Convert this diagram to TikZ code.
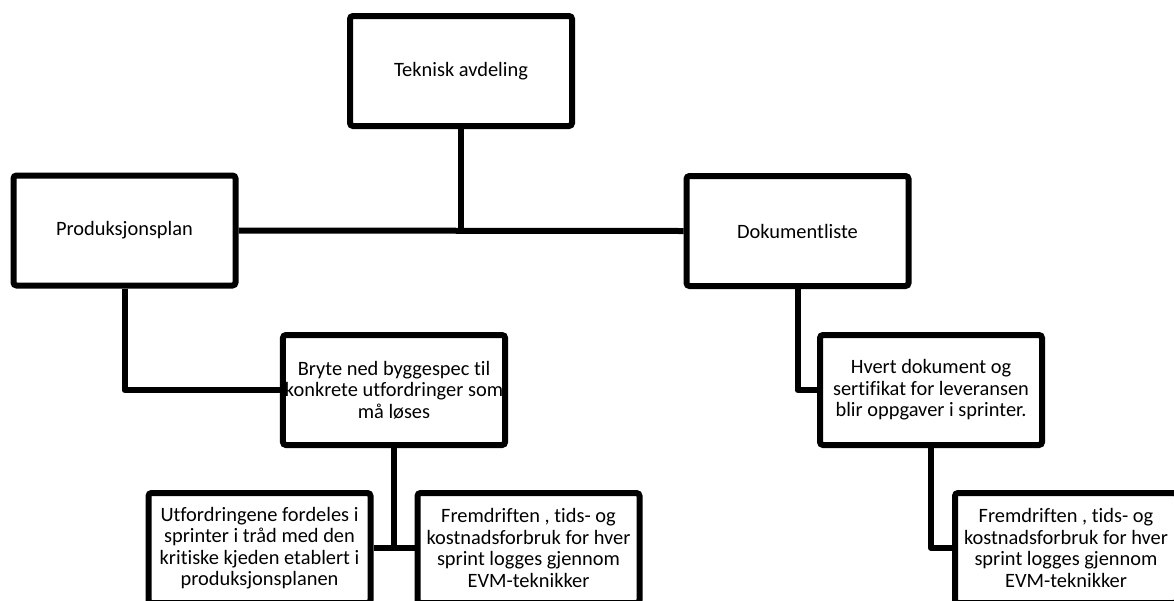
\documentclass[tikz,border=0pt]{standalone}
\usepackage{fontspec}
\setmainfont[Ligatures=NoCommon]{Carlito}
\begin{document}
\begin{tikzpicture}[x=1pt,y=-1pt,
  orgbox/.style={draw=black, line width=6pt, rounded corners=3pt, fill=white,
    minimum width=222pt, minimum height=110pt, inner sep=2pt, align=center,
    font=\fontsize{20.4}{21.5}\selectfont},
  link/.style={draw=black, line width=6pt, line join=round}]
\useasboundingbox (0,0) rectangle (1174,600);

% boxes
\node[orgbox] (top)   at (461,71)    {Teknisk avdeling};
\node[orgbox] (prod)  at (124.5,230.5) {Produksjonsplan};
\node[orgbox] (dok)   at (797.5,231) {Dokumentliste};
\node[orgbox] (bryte) at (394,390)   {Bryte ned byggespec til\\konkrete utfordringer som\\må løses};
\node[orgbox] (hvert) at (931,390)   {Hvert dokument og\\sertifikat for leveransen\\blir oppgaver i sprinter.};
\node[orgbox] (bl)    at (259.5,548) {Utfordringene fordeles i\\sprinter i tråd med den\\kritiske kjeden etablert i\\produksjonsplanen};
\node[orgbox] (bm)    at (528.5,548) {Fremdriften , tids- og\\kostnadsforbruk for hver\\sprint logges gjennom\\EVM-teknikker};
\node[orgbox] (br)    at (1066,548)  {Fremdriften , tids- og\\kostnadsforbruk for hver\\sprint logges gjennom\\EVM-teknikker};

% connectors
\path[link] (prod.east) -- (dok.west);
\path[link] (top.south) -- (top.south |- prod.east);
\path[link] (prod.south) -- (prod.south |- bryte.west) -- (bryte.west);
\path[link] (dok.south) -- (dok.south |- hvert.west) -- (hvert.west);
\path[link] (bl.east) -- (bm.west);
\path[link] (bryte.south) -- (bryte.south |- bl.east);
\path[link] (hvert.south) -- (hvert.south |- br.west) -- (br.west);
\end{tikzpicture}
\end{document}
